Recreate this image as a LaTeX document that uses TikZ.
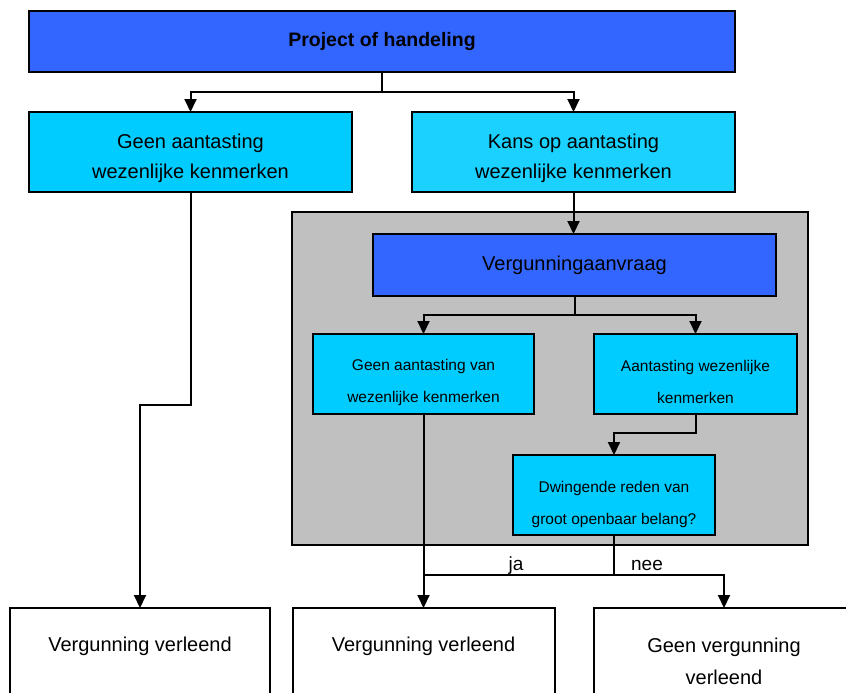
\documentclass[tikz,border=0pt]{standalone}
\usepackage{fontspec}
\setmainfont{Liberation Sans}
\usetikzlibrary{arrows.meta}
\definecolor{topblue}{HTML}{3366FF}
\definecolor{cyanA}{HTML}{00CCFF}
\definecolor{cyanB}{HTML}{1AD1FF}
\definecolor{panel}{HTML}{C0C0C0}
\begin{document}
\begin{tikzpicture}[x=1pt,y=-1pt,
  box/.style={draw=black,line width=2pt,inner sep=0pt,outer sep=0pt,align=center,text=black},
  big/.style={inner sep=0pt,align=center,font=\fontsize{20}{30}\selectfont},
  small/.style={inner sep=0pt,align=center,font=\fontsize{15.5}{32}\selectfont},
  txt/.style={inner sep=0pt,align=center,font=\fontsize{20}{32}\selectfont},
  arr/.style={line width=2pt,-{Triangle[width=12pt,length=13pt]}},
  ln/.style={line width=2pt}]
\useasboundingbox (0,0) rectangle (846,693);
\clip (0,0) rectangle (846,693);
\fill[white] (0,0) rectangle (846,693);

\node[box,fill=topblue,minimum width=706pt,minimum height=61pt,font=\bfseries\fontsize{19.5}{24}\selectfont] (top) at (382,41.5) {Project of handeling};
\node[box,fill=cyanA,minimum width=323pt,minimum height=80pt] (geen) at (190.5,152) {};
\node[box,fill=cyanB,minimum width=323pt,minimum height=80pt] (kans) at (573.5,152) {};
\node[box,fill=panel,minimum width=516pt,minimum height=333pt] (panelbox) at (550,378.5) {};
\node[box,fill=topblue,minimum width=403pt,minimum height=62pt,font=\fontsize{20}{24}\selectfont] (aanvraag) at (574.5,265) {Vergunningaanvraag};
\node[box,fill=cyanA,minimum width=221pt,minimum height=80pt] (geenvan) at (423.5,374) {};
\node[box,fill=cyanA,minimum width=203pt,minimum height=80pt] (aant) at (695.5,374) {};
\node[box,fill=cyanA,minimum width=202pt,minimum height=80pt] (dwing) at (614,495) {};

\node[big] (geent) at (190.5,158) {Geen aantasting\\wezenlijke kenmerken};
\node[big] (kanst) at (573.5,158) {Kans op aantasting\\wezenlijke kenmerken};
\node[small] (geenvant) at (423.5,382) {Geen aantasting van\\wezenlijke kenmerken};
\node[small] (aantt) at (695.5,382) {Aantasting wezenlijke\\kenmerken};
\node[small] (dwingt) at (614,504) {Dwingende reden van\\groot openbaar belang?};

\node[box,fill=white,minimum width=260pt,minimum height=120pt,anchor=north] (bot1) at (140,608) {};
\node[box,fill=white,minimum width=262pt,minimum height=120pt,anchor=north] (bot2) at (423.5,608) {};
\node[box,fill=white,minimum width=260pt,minimum height=120pt,anchor=north] (bot3) at (724,608) {};
\node[txt] (bot1t) at (140,646) {Vergunning verleend};
\node[txt] (bot2t) at (423.5,646) {Vergunning verleend};
\node[txt] (bot3t) at (724,661) {Geen vergunning\\verleend};

\coordinate (j1) at (382,92);
\draw[ln] (top.south) -- (j1);
\draw[arr] (j1) -| (geen.north);
\draw[arr] (j1) -| (kans.north);

\coordinate (k2) at (140,405);
\draw[arr] (geen.south) |- (k2) -- (bot1.north);

\draw[arr] (kans.south) -- (kans.south |- aanvraag.north);

\coordinate (j2) at (574.5,315);
\draw[ln] (aanvraag.south) -- (j2);
\draw[arr] (j2) -| (geenvan.north);
\draw[arr] (j2) -| (aant.north);

\coordinate (j3) at (695.5,433);
\draw[arr] (aant.south) -- (j3) -| (dwing.north);

\coordinate (j4) at (614,575);
\draw[ln] (dwing.south) -- (j4) -- (j4 -| geenvan.south);
\draw[arr] (geenvan.south) -- (bot2.north);
\draw[arr] (j4) -| (bot3.north);

\node[font=\fontsize{19}{22}\selectfont,anchor=base,inner sep=0pt] (ja) at (516,570) {ja};
\node[font=\fontsize{19}{22}\selectfont,anchor=base,inner sep=0pt] (nee) at (647,570) {nee};
\end{tikzpicture}
\end{document}
